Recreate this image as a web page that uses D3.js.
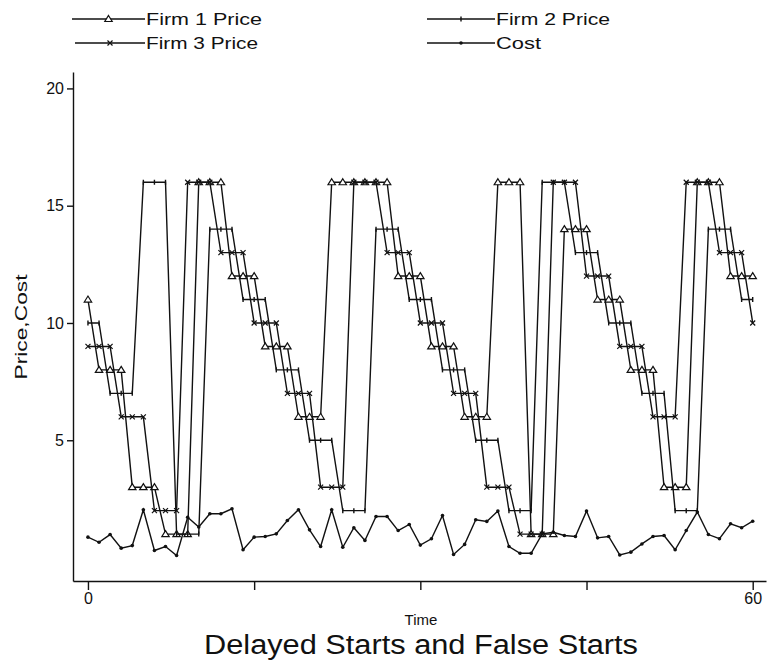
<!DOCTYPE html>
<html>
<head>
<meta charset="utf-8">
<script src="https://cdn.jsdelivr.net/npm/d3@7"></script>
<style>
    body { margin: 0; background: #fff; }
    text { font-family: "Liberation Sans", Arial, sans-serif; fill: #111; }
</style>
</head>
<body>
<div id="chart-area"></div>
<script>
// values, one entry per time step (0..60)
const firm1Price = [11, 8, 8, 8, 3, 3, 3, 1, 1, 1, 16, 16, 16, 12, 12, 12, 9, 9, 9, 6, 6, 6,
    16, 16, 16, 16, 16, 16, 12, 12, 12, 9, 9, 9, 6, 6, 6, 16, 16, 16, 1, 1, 1,
    14, 14, 14, 11, 11, 11, 8, 8, 8, 3, 3, 3, 16, 16, 16, 12, 12, 12];
const firm2Price = [10, 10, 7, 7, 7, 16, 16, 16, 1, 1, 1, 14, 14, 14, 11, 11, 11, 8, 8, 8,
    5, 5, 5, 2, 2, 2, 14, 14, 14, 11, 11, 11, 8, 8, 8, 5, 5, 5, 2, 2, 2,
    16, 16, 16, 13, 13, 13, 10, 10, 10, 7, 7, 7, 2, 2, 2, 14, 14, 14, 11, 11];
const firm3Price = [9, 9, 9, 6, 6, 6, 2, 2, 2, 16, 16, 16, 13, 13, 13, 10, 10, 10, 7, 7, 7,
    3, 3, 3, 16, 16, 16, 13, 13, 13, 10, 10, 10, 7, 7, 7, 3, 3, 3, 1, 1, 1,
    16, 16, 16, 12, 12, 12, 9, 9, 9, 6, 6, 6, 16, 16, 16, 13, 13, 13, 10];
const cost = [0.87, 0.65, 0.98, 0.4, 0.51, 2.04, 0.3, 0.47, 0.09, 1.72, 1.3, 1.87, 1.87, 2.08,
    0.33, 0.87, 0.9, 1.01, 1.58, 2.04, 1.18, 0.47, 2.04, 0.44, 1.27, 0.73, 1.75, 1.75, 1.15,
    1.41, 0.53, 0.8, 1.79, 0.13, 0.56, 1.61, 1.54, 1.98, 0.47, 0.18, 0.18, 1.01, 1.08, 0.94,
    0.9, 1.98, 0.84, 0.9, 0.11, 0.23, 0.58, 0.9, 0.94, 0.33, 1.15, 1.94, 0.98, 0.8, 1.44,
    1.27, 1.55];

const seriesNames = ["Firm 1 Price", "Firm 2 Price", "Firm 3 Price", "Cost"];
const xTicks = [0, 15, 30, 45, 60];
const xTickLabels = ["0", "", "", "", "60"];
const yTicks = [5, 10, 15, 20];

class LineVis {
    constructor(parentElement) {
        this.parentElement = parentElement;
        this.initVis();
    }

    initVis() {
        let vis = this;

        vis.width = 769;
        vis.height = 663;

        vis.svg = d3.select("#" + vis.parentElement).append("svg")
            .attr("width", vis.width)
            .attr("height", vis.height);

        // scales (axis lines run a little past the data on both ends)
        vis.x = d3.scaleLinear()
            .domain([-1.35, 61.2])
            .range([73, 766]);

        vis.y = d3.scaleLinear()
            .domain([-1, 20.7])
            .range([581, 72]);

        // axes
        vis.svg.append("g")
            .attr("class", "x-axis")
            .attr("transform", "translate(0,581)")
            .call(d3.axisBottom(vis.x)
                .tickValues(xTicks)
                .tickSize(9)
                .tickSizeOuter(0)
                .tickPadding(3)
                .tickFormat((d, i) => xTickLabels[i]));

        vis.svg.append("g")
            .attr("class", "y-axis")
            .attr("transform", "translate(73,0)")
            .call(d3.axisLeft(vis.y)
                .tickValues(yTicks)
                .tickSize(6)
                .tickSizeOuter(0)
                .tickPadding(3));

        vis.svg.selectAll(".x-axis text, .y-axis text")
            .style("font-size", "16px")
            .style("font-family", "'Liberation Sans', Arial, sans-serif")
            .attr("fill", "#111");
        vis.svg.selectAll(".x-axis path, .x-axis line, .y-axis path, .y-axis line")
            .attr("stroke", "#111")
            .attr("stroke-width", 1.4);

        // axis titles
        vis.svg.append("text")
            .attr("x", 421)
            .attr("y", 625)
            .attr("text-anchor", "middle")
            .style("font-size", "15px")
            .text("Time");

        vis.svg.append("text")
            .attr("transform", "translate(27,327) rotate(-90)")
            .attr("text-anchor", "middle")
            .style("font-size", "16px")
            .attr("textLength", 105)
            .attr("lengthAdjust", "spacingAndGlyphs")
            .text("Price,Cost");

        // chart title
        vis.svg.append("text")
            .attr("x", 421)
            .attr("y", 654)
            .attr("text-anchor", "middle")
            .style("font-size", "27px")
            .attr("textLength", 434)
            .attr("lengthAdjust", "spacingAndGlyphs")
            .text("Delayed Starts and False Starts");

        vis.line = d3.line()
            .x(d => vis.x(d.t))
            .y(d => vis.y(d.v));

        vis.wrangleData();
    }

    wrangleData() {
        let vis = this;

        vis.displayData = [firm1Price, firm2Price, firm3Price, cost].map((arr, i) => ({
            name: seriesNames[i],
            marker: ["triangle", "tick", "arrow", "dot"][i],
            values: arr.map((v, t) => ({t: t, v: v}))
        }));

        vis.updateVis();
    }

    // draws one marker of a given kind into a group
    drawMarker(g, kind, cx, cy) {
        if (kind === "triangle") {
            g.append("path")
                .attr("d", `M${cx},${cy - 3.5}L${cx + 3.7},${cy + 2.5}L${cx - 3.7},${cy + 2.5}Z`)
                .attr("fill", "#fff")
                .attr("stroke", "#111")
                .attr("stroke-width", 1.2);
        } else if (kind === "arrow") {
            g.append("path")
                .attr("d", `M${cx - 2.5},${cy - 2.5}L${cx + 2.5},${cy + 2.5}M${cx - 2.5},${cy + 2.5}L${cx + 2.5},${cy - 2.5}`)
                .attr("fill", "none")
                .attr("stroke", "#111")
                .attr("stroke-width", 1.2);
        } else if (kind === "tick") {
            g.append("path")
                .attr("d", `M${cx},${cy - 2.5}L${cx},${cy + 2.5}`)
                .attr("stroke", "#111")
                .attr("stroke-width", 1.4);
        } else {
            g.append("circle")
                .attr("cx", cx)
                .attr("cy", cy)
                .attr("r", 1.8)
                .attr("fill", "#111");
        }
    }

    updateVis() {
        let vis = this;

        let series = vis.svg.selectAll(".series")
            .data(vis.displayData)
            .enter()
            .append("g")
            .attr("class", "series");

        series.append("path")
            .attr("d", d => vis.line(d.values))
            .attr("fill", "none")
            .attr("stroke", "#111")
            .attr("stroke-width", 1.4);

        series.each(function (d) {
            let g = d3.select(this);
            d.values.forEach(p => vis.drawMarker(g, d.marker, vis.x(p.t), vis.y(p.v)));
        });

        // legend, two rows of two
        let legendPos = [
            {x1: 72, x2: 145, y: 19},
            {x1: 427, x2: 495, y: 19},
            {x1: 75, x2: 145, y: 43},
            {x1: 427, x2: 495, y: 43}
        ];
        let legendLen = [116, 114, 112, 45];

        vis.displayData.forEach((d, i) => {
            let p = legendPos[i];
            let g = vis.svg.append("g").attr("class", "legend-item");
            g.append("line")
                .attr("x1", p.x1)
                .attr("x2", p.x2)
                .attr("y1", p.y)
                .attr("y2", p.y)
                .attr("stroke", "#111")
                .attr("stroke-width", 1.4);
            vis.drawMarker(g, d.marker, (p.x1 + p.x2) / 2, p.y);
            g.append("text")
                .attr("x", p.x2 + 1)
                .attr("y", p.y + 6)
                .style("font-size", "17px")
                .attr("textLength", legendLen[i])
                .attr("lengthAdjust", "spacingAndGlyphs")
                .text(d.name);
        });
    }
}

new LineVis("chart-area");
</script>
</body>
</html>
